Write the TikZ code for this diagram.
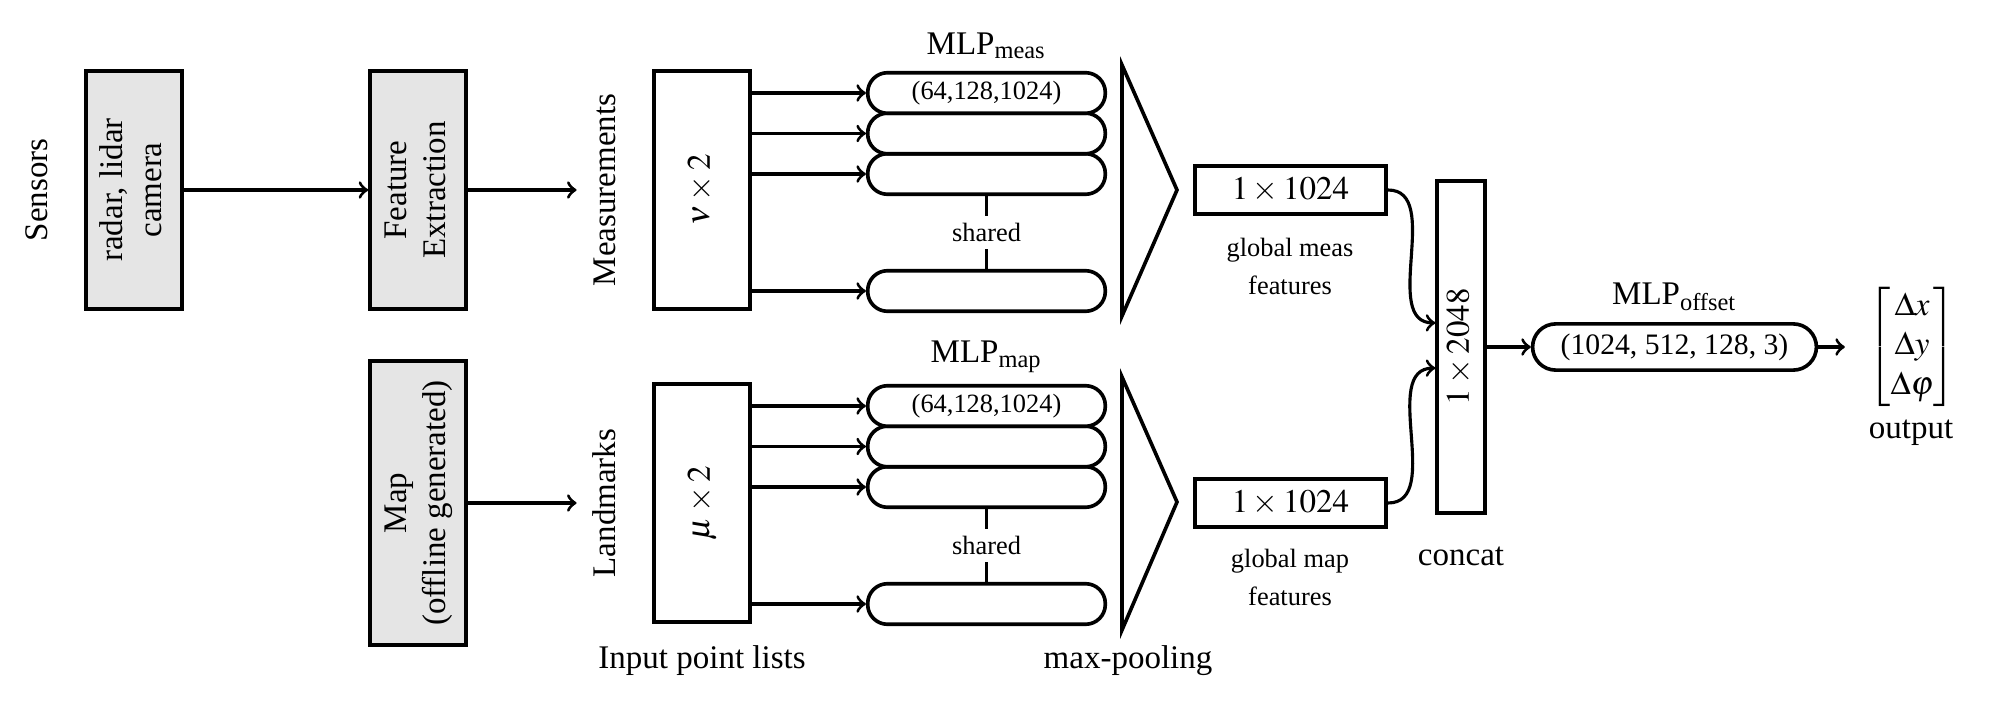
\documentclass[tikz,border=0pt]{standalone}
\usepackage{amsmath}
\usepackage{mathptmx}
\usepackage{fontspec}
\setmainfont{Liberation Serif}
\usepackage{graphicx}
\usetikzlibrary{arrows,positioning,calc}

\newcommand{\vtxt}[1]{\rotatebox{90}{\begin{tabular}{@{}c@{}}#1\end{tabular}}}

\tikzset{
	blk/.style={draw,line width=1.2pt,fill=gray!20,minimum width=29pt,minimum height=72pt,inner sep=1pt},
	inbox/.style={draw,line width=1.1pt,minimum width=29pt,minimum height=72pt,inner sep=1pt},
	mlp/.style={draw,line width=1.1pt,rounded corners=6pt,fill=white,minimum width=72pt,minimum height=12.3pt,inner sep=0pt,font=\footnotesize},
	feat/.style={draw,line width=1.1pt,minimum width=58pt,minimum height=14.5pt,inner sep=1pt},
	note/.style={font=\fontsize{8}{11.5}\selectfont,align=center},
	conn/.style={line width=0.95pt,->}
}

\begin{document}
\begin{tikzpicture}[x=1.065cm,y=1.065cm]
				\useasboundingbox (0,0) rectangle (20,7.03);
				% sensors and map
				\node (sens) at (0.40,5.13) {\vtxt{Sensors}};
				\node[blk] (raw) at (1.34,5.13) {\vtxt{radar, lidar\\camera}};
				\node[blk] (fex) at (4.18,5.13) {\vtxt{Feature\\Extraction}};
				\node[blk,minimum height=86pt] (map) at (4.18,2.00) {\vtxt{Map\\(offline generated)}};
				\node (meas) at (6.08,5.13) {\vtxt{Measurements}};
				\node (lmk) at (6.08,2.00) {\vtxt{Landmarks}};
				\draw[conn] (raw) -- (fex);
				\draw[conn] (fex) -- (meas);
				\draw[conn] (map) -- (lmk);
				% input point lists
				\node[inbox] (vin) at (7.02,5.13) {\vtxt{$\nu\times 2$}};
				\node[inbox] (uin) at (7.02,2.00) {\vtxt{$\mu\times 2$}};
				\node (ipl) at (7.02,0.42) {Input point lists};
				% shared mlps
				\foreach \row/\yc in {a/5.13,b/2.00}{
					\foreach \k/\dy in {4/-1.01,3/0.16,2/0.565}
					\node[mlp] (mlp\row\k) at (9.865,\yc+\dy) {};
					\node[mlp] (mlp\row1) at (9.865,\yc+0.97) {(64,128,1024)};
					\node[inner sep=2pt] (sh\row) at ($(mlp\row3.south)!0.5!(mlp\row4.north)$) {\footnotesize{shared}};
					\draw[line width=1.1pt] (mlp\row3) -- (sh\row) -- (mlp\row4);
				}
				\foreach \k in {1,...,4}{
					\draw[conn] (vin.east |- mlpa\k.west) -- (mlpa\k.west);
					\draw[conn] (uin.east |- mlpb\k.west) -- (mlpb\k.west);
				}
				\node[above=0pt of mlpa1] (mlpalbl) {MLP\textsubscript{meas}};
				\node[above=0pt of mlpb1] (mlpblbl) {MLP\textsubscript{map}};
				% max-pooling
				\draw[line width=1.1pt] (11.22,6.38) -- (11.77,5.13) -- (11.22,3.87) -- cycle;
				\draw[line width=1.1pt] (11.22,3.26) -- (11.77,2.01) -- (11.22,0.73) -- cycle;
				\node (mpl) at (11.28,0.42) {max-pooling};
				% global features
				\node[feat] (gmeas) at (12.905,5.13) {$1\times 1024$};
				\node[feat] (gmap) at (12.905,2.00) {$1\times 1024$};
				\node[note] (gmeaslbl) at (12.9,4.37) {global meas\\features};
				\node[note] (gmaplbl) at (12.9,1.26) {global map\\features};
				% concat and offset
				\node[draw,line width=1.1pt,minimum width=14.5pt,minimum height=100.6pt,inner sep=0pt] (cat) at (14.61,3.56) {\vtxt{$1\times 2048$}};
				\node (catlbl) at (14.61,1.47) {concat};
				\draw[conn] (gmeas.east) to[out=0,in=180] ([yshift=7.3pt]cat.west);
				\draw[conn] (gmap.east) to[out=0,in=180] ([yshift=-6.4pt]cat.west);
				\node[mlp,rounded corners=7pt,minimum width=86pt,minimum height=14pt,font=\small] (off) at (16.745,3.56) {(1024, 512, 128, 3)};
				\node[above=0pt of off] (offlbl) {MLP\textsubscript{offset}};
				\node[inner sep=7pt] (outv) at (19.12,3.56) {$\begin{bmatrix}\Delta x\\ \Delta y\\ \Delta\varphi\end{bmatrix}$};
				\node (outlbl) at (19.11,2.70) {output};
				\draw[conn] (cat) -- (off);
				\draw[conn] (off) -- (outv);
\end{tikzpicture}
\end{document}
